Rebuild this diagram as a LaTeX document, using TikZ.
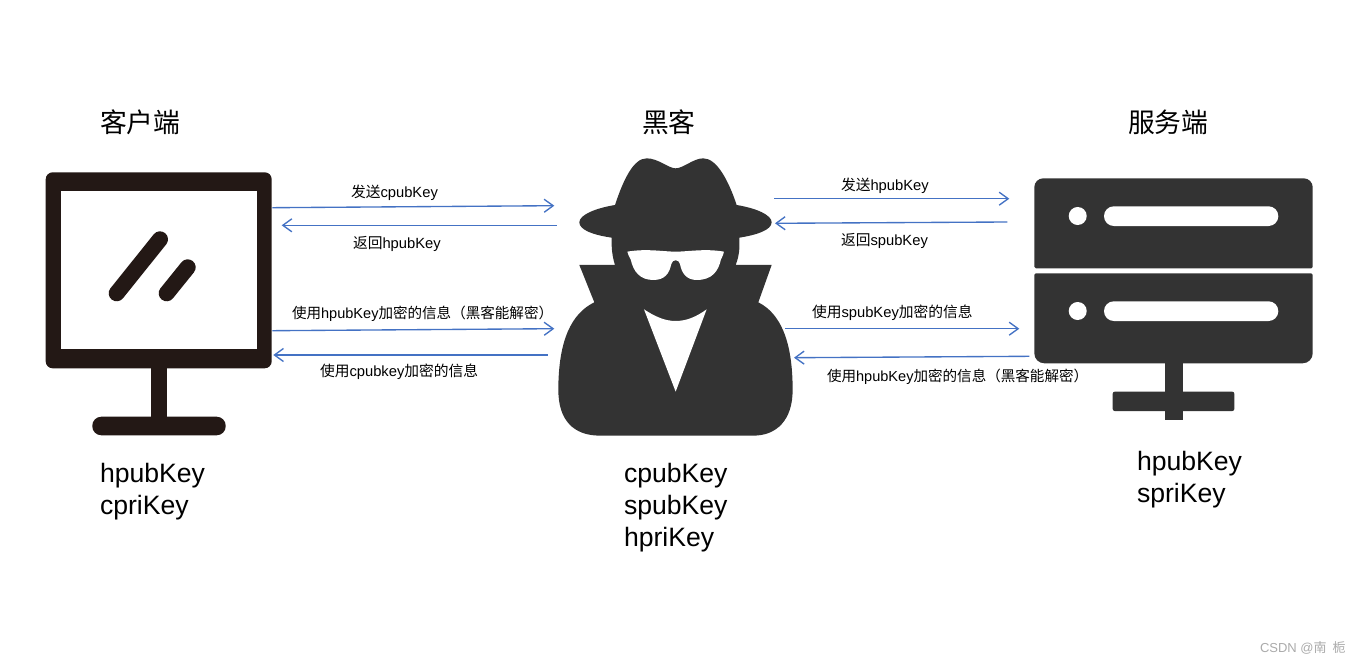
\documentclass[tikz,border=0pt]{standalone}
\usepackage{fontspec}
\setmainfont{Liberation Sans}
\newfontfamily\cjk{Noto Sans CJK SC}
\usetikzlibrary{arrows.meta}
\definecolor{monitorc}{HTML}{231815}
\definecolor{iconc}{HTML}{333333}
\definecolor{arrowc}{HTML}{4472C4}
\definecolor{markc}{HTML}{ABABAB}
\tikzset{
  every node/.style={inner sep=0pt,outer sep=0pt},
  titletext/.style={anchor=base west,font=\cjk\fontsize{26.8}{32}\selectfont,text=black},
  keytext/.style={anchor=west,align=left,font=\fontsize{26.6}{32}\selectfont,text=black},
  msgtext/.style={anchor=base west,font=\fontsize{14.75}{17}\selectfont,text=black},
  msglong/.style={anchor=base west,font=\fontsize{14.55}{17}\selectfont,text=black},
  msgline/.style={draw=arrowc,line width=1.35pt,-{Straight Barb[length=9pt,width=13pt,line width=1.35pt]}},
  iconfill/.style={fill=iconc,draw=none},
  monitorfill/.style={fill=monitorc,draw=none},
  holefill/.style={fill=white,draw=none}
}
\begin{document}
\begin{tikzpicture}[x=1pt,y=-1pt]
\useasboundingbox[fill=white] (0,0) rectangle (1362,663);
% titles
\node[titletext] (t1) at (100,133) {客户端};
\node[titletext] (t2) at (642,133) {黑客};
\node[titletext] (t3) at (1128,133) {服务端};
% monitor
\fill[monitorfill,rounded corners=7pt] (45.7,172.3) rectangle (271.7,368.3);
\fill[holefill] (61,190.7) rectangle (256.7,349.3);
\fill[monitorfill] (151.3,360) rectangle (166.7,425);
\fill[monitorfill,rounded corners=9pt] (92.3,416.7) rectangle (225.7,435.3);
\draw[monitorc,line width=16pt,line cap=round] (116.7,293.3) -- (160,239.3);
\draw[monitorc,line width=16pt,line cap=round] (166.7,293.3) -- (187.7,267.3);
% spy
\begin{scope}[shift={(540,140)},x=0.3333pt,y=-0.3333pt]
\fill[iconfill]
  (225,195) .. controls (250,120) and (280,55) .. (320,55)
  .. controls (355,55) and (385,85) .. (407,85)
  .. controls (430,85) and (460,55) .. (490,55)
  .. controls (530,55) and (565,120) .. (590,195)
  .. controls (650,205) and (695,225) .. (695,247)
  .. controls (695,270) and (650,285) .. (598,293)
  .. controls (600,325) and (597,350) .. (587,375)
  -- (695,375) -- (655,487)
  .. controls (720,520) and (758,600) .. (758,750)
  .. controls (758,840) and (710,887) .. (640,887)
  -- (180,887)
  .. controls (100,887) and (55,840) .. (55,750)
  .. controls (55,600) and (95,520) .. (163,487)
  -- (118,375) -- (225,375)
  .. controls (217,350) and (214,325) .. (215,293)
  .. controls (160,285) and (118,270) .. (118,247)
  .. controls (118,225) and (165,205) .. (225,195) -- cycle;
\fill[holefill]
  (262,335) .. controls (320,325) and (370,335) .. (407,335)
  .. controls (445,335) and (495,325) .. (552,335)
  .. controls (552,345) and (545,350) .. (543,358)
  .. controls (535,395) and (515,420) .. (470,420)
  .. controls (440,420) and (425,400) .. (420,372)
  .. controls (417,357) and (397,357) .. (394,372)
  .. controls (388,400) and (375,420) .. (340,420)
  .. controls (300,420) and (280,395) .. (272,358)
  .. controls (270,350) and (262,345) .. (262,335) -- cycle;
\fill[holefill]
  (312,508) .. controls (345,530) and (375,543) .. (407,543)
  .. controls (440,543) and (470,530) .. (500,508)
  -- (407,755) -- cycle;
\end{scope}
% server
\fill[iconfill] (1034.3,223) [rounded corners=9pt] -- (1034.3,178.3) -- (1312.7,178.3) [rounded corners=1.5pt] -- (1312.7,268.3) -- (1034.3,268.3) -- cycle;
\fill[iconfill] (1034.3,318) [rounded corners=1.5pt] -- (1034.3,273.3) -- (1312.7,273.3) [rounded corners=10pt] -- (1312.7,363.3) -- (1034.3,363.3) -- cycle;
\fill[holefill] (1077.7,216) circle[radius=9];
\fill[holefill] (1077.7,311) circle[radius=9];
\fill[holefill,rounded corners=9.8pt] (1104,206.3) rectangle (1278.3,226);
\fill[holefill,rounded corners=9.8pt] (1104,301.3) rectangle (1278.3,321);
\fill[iconfill] (1164.7,360) rectangle (1182.7,420);
\fill[iconfill,rounded corners=2pt] (1112.7,391.7) rectangle (1234.3,411);
% connector ends
\coordinate (a1s) at (272.3,207.7); \coordinate (a1e) at (554.3,205.7);
\coordinate (a2s) at (556.7,225.3); \coordinate (a2e) at (281.7,225.3);
\coordinate (a3s) at (272.3,330.7); \coordinate (a3e) at (554.3,328.7);
\coordinate (a4s) at (547.7,355);   \coordinate (a4e) at (273.3,355);
\coordinate (a5s) at (774,198.7);   \coordinate (a5e) at (1009.3,198.7);
\coordinate (a6s) at (1007.3,222);  \coordinate (a6e) at (775,223.3);
\coordinate (a7s) at (785,328.7);   \coordinate (a7e) at (1019.3,328.7);
\coordinate (a8s) at (1029.3,356.3);\coordinate (a8e) at (794,357.7);
\draw[msgline] (a1s) -- (a1e);
\draw[msgline] (a2s) -- (a2e);
\draw[msgline] (a3s) -- (a3e);
\draw[msgline] (a4s) -- (a4e);
\draw[msgline] (a5s) -- (a5e);
\draw[msgline] (a6s) -- (a6e);
\draw[msgline] (a7s) -- (a7e);
\draw[msgline] (a8s) -- (a8e);
% messages
\node[msgtext] (m1) at (351,197) {{\cjk 发送}cpubKey};
\node[msgtext] (m2) at (353,248) {{\cjk 返回}hpubKey};
\node[msglong] (m3) at (292,318) {{\cjk 使用}hpubKey{\cjk 加密的信息（黑客能解密）}};
\node[msgtext] (m4) at (320,376) {{\cjk 使用}cpubkey{\cjk 加密的信息}};
\node[msgtext] (m5) at (841,190.5) {{\cjk 发送}hpubKey};
\node[msgtext] (m6) at (841,245.5) {{\cjk 返回}spubKey};
\node[msgtext] (m7) at (812,317) {{\cjk 使用}spubKey{\cjk 加密的信息}};
\node[msglong] (m8) at (827,381) {{\cjk 使用}hpubKey{\cjk 加密的信息（黑客能解密）}};
% keys
\node[keytext] (k1) at (100,492) {hpubKey\\cpriKey};
\node[keytext] (k2) at (624,508) {cpubKey\\spubKey\\hpriKey};
\node[keytext] (k3) at (1137,480) {hpubKey\\spriKey};
% watermark
\node[anchor=base west,font=\fontsize{13}{15}\selectfont,text=markc] (wm) at (1260,652) {CSDN @{\cjk 南\hspace{6pt}栀}};
\end{tikzpicture}
\end{document}
